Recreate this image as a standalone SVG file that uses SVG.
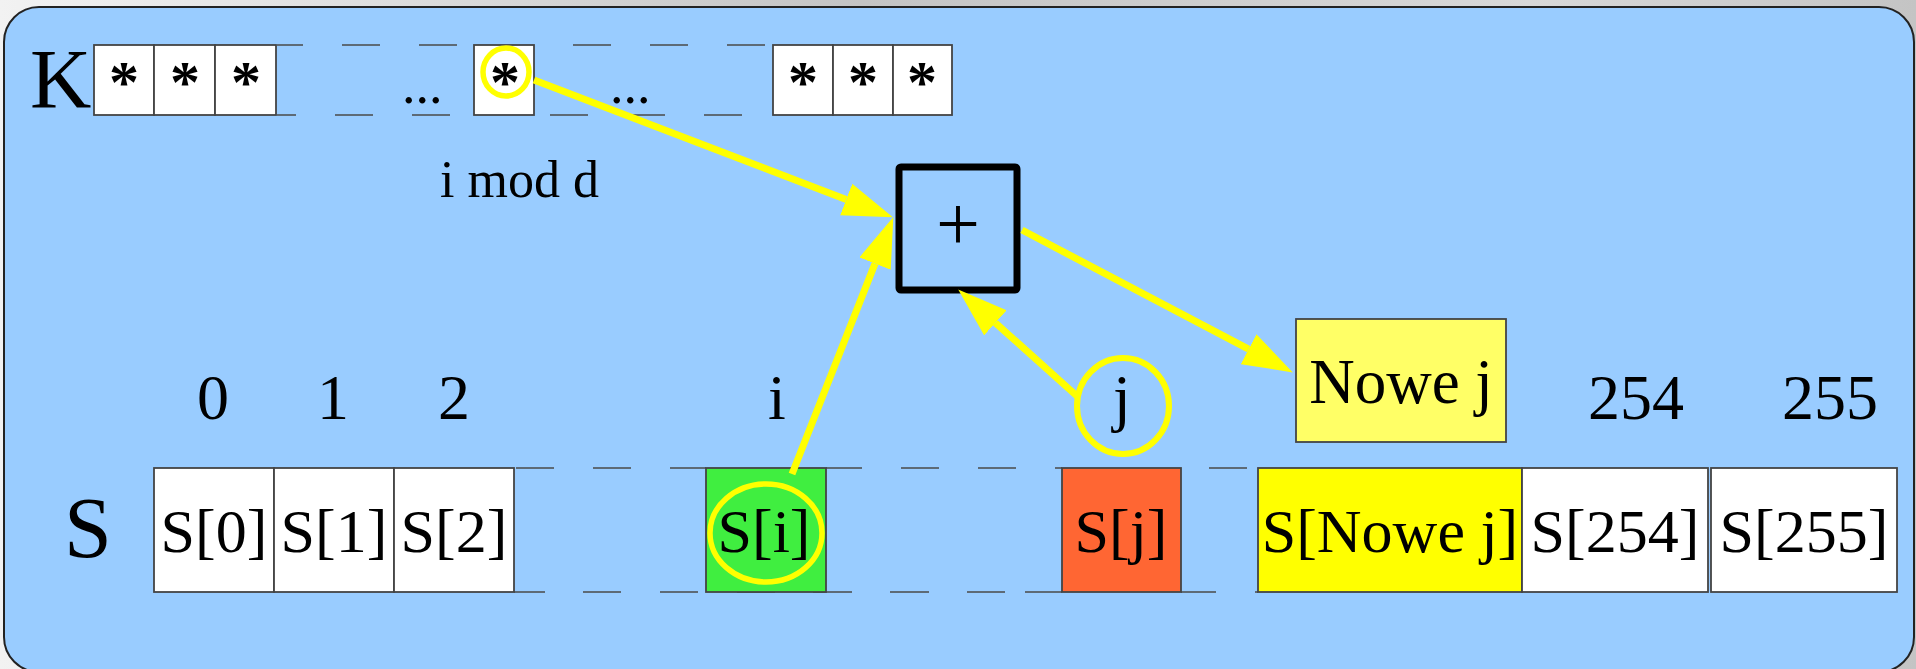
<svg xmlns="http://www.w3.org/2000/svg" width="1916" height="669" viewBox="0 0 1916 669">
<defs>
<linearGradient id="bg" x1="0" y1="0" x2="1" y2="0">
<stop offset="0" stop-color="#f2f2f2"/>
<stop offset="0.45" stop-color="#c4c4c4"/>
<stop offset="0.8" stop-color="#d8d8d8"/>
<stop offset="1" stop-color="#c4c4c4"/>
</linearGradient>
<marker id="ah" markerUnits="userSpaceOnUse" markerWidth="50" markerHeight="34" viewBox="0 0 49 33" refX="0" refY="16.5" orient="auto">
<path d="M0,0 L49,16.5 L0,33 Z" fill="#ffff00"/>
</marker>
<style>
.t{font-family:"Liberation Serif","Times New Roman",serif;fill:#000}
.c{stroke:#444;stroke-width:1.8}
.w{fill:#ffffff}
.d{stroke:#4a4a4a;stroke-width:1.5;fill:none}
.y{stroke:#ffff00;stroke-width:7;fill:none;marker-end:url(#ah)}
.ring{stroke:#ffff00;fill:none}
.mid{text-anchor:middle}
.ast{font-size:60px;font-weight:bold}
</style>
</defs>
<rect x="0" y="0" width="1916" height="669" fill="url(#bg)"/>
<rect id="panel" x="4" y="7" width="1910" height="665" rx="35" ry="35" fill="#99ccff" stroke="#222" stroke-width="2"/>

<g id="K-row">
<text class="t" x="30" y="108" font-size="85">K</text>
<rect class="c w" x="94" y="45" width="60" height="70"/>
<rect class="c w" x="154" y="45" width="61" height="70"/>
<rect class="c w" x="215" y="45" width="61" height="70"/>
<text class="t mid ast" x="124" y="102">*</text>
<text class="t mid ast" x="185" y="102">*</text>
<text class="t mid ast" x="246" y="102">*</text>
<path class="d" d="M277,45 H303 M342,45 H380 M419,45 H457 M573,45 H611 M650,45 H688 M727,45 H765 M277,115 H296 M335,115 H373 M412,115 H450 M550,115 H588 M627,115 H665 M704,115 H742"/>
<text class="t" x="402" y="103" font-size="54">...</text>
<text class="t" x="610" y="103" font-size="54">...</text>
<rect id="K-sel" class="c w" x="474" y="45" width="60" height="70"/>
<text class="t mid ast" x="505" y="102">*</text>
<rect class="c w" x="773" y="45" width="60" height="70"/>
<rect class="c w" x="833" y="45" width="60" height="70"/>
<rect class="c w" x="893" y="45" width="59" height="70"/>
<text class="t mid ast" x="803" y="102">*</text>
<text class="t mid ast" x="863" y="102">*</text>
<text class="t mid ast" x="922" y="102">*</text>
<text class="t" x="440" y="197" font-size="52">i mod d</text>
</g>

<g id="plus">
<rect x="899" y="167" width="118" height="123" rx="2" fill="none" stroke="#000" stroke-width="7"/>
<text class="t mid" x="958" y="250" font-size="78">+</text>
</g>

<g id="nowe-j">
<rect x="1296" y="319" width="210" height="123" fill="#ffff66" stroke="#444" stroke-width="1.8"/>
<text class="t mid" x="1401" y="403" font-size="63">Nowe j</text>
</g>

<g id="labels">
<text class="t mid" x="213" y="419" font-size="64">0</text>
<text class="t mid" x="333" y="419" font-size="64">1</text>
<text class="t mid" x="454" y="419" font-size="64">2</text>
<text class="t mid" x="777" y="419" font-size="64">i</text>
<text class="t mid" x="1122" y="419" font-size="64">j</text>
<text class="t mid" x="1636" y="419" font-size="64">254</text>
<text class="t mid" x="1830" y="419" font-size="64">255</text>
</g>

<g id="S-row">
<text class="t" x="64" y="557" font-size="86">S</text>
<path class="d" d="M516,468 H554 M593,468 H631 M670,468 H706 M826,468 H862 M901,468 H939 M978,468 H1016 M1055,468 H1062 M1209,468 H1247 M514,592 H545 M583,592 H621 M660,592 H698 M737,592 H775 M813,592 H852 M890,592 H929 M967,592 H1005 M1025,592 H1062 M1181,592 H1216 M1255,592 H1258"/>
<rect class="c w" x="154" y="468" width="120" height="124"/>
<rect class="c w" x="274" y="468" width="120" height="124"/>
<rect class="c w" x="394" y="468" width="120" height="124"/>
<rect class="c" x="706" y="468" width="120" height="124" fill="#40ee40"/>
<rect class="c" x="1062" y="468" width="119" height="124" fill="#ff6633"/>
<rect class="c" x="1258" y="468" width="264" height="124" fill="#ffff00"/>
<rect class="c w" x="1522" y="468" width="186" height="124"/>
<rect class="c w" x="1711" y="468" width="186" height="124"/>
<text class="t mid" x="214" y="552" font-size="62">S[0]</text>
<text class="t mid" x="334" y="552" font-size="62">S[1]</text>
<text class="t mid" x="454" y="552" font-size="62">S[2]</text>
<text class="t mid" x="764" y="552" font-size="62">S[i]</text>
<text class="t mid" x="1121" y="552" font-size="62">S[j]</text>
<text class="t mid" x="1390" y="552" font-size="62">S[Nowe j]</text>
<text class="t mid" x="1615" y="552" font-size="62">S[254]</text>
<text class="t mid" x="1804" y="552" font-size="62">S[255]</text>
</g>

<g id="rings">
<ellipse class="ring" cx="506" cy="72" rx="23" ry="24" stroke-width="5.5"/>
<ellipse class="ring" cx="766" cy="533" rx="56" ry="49" stroke-width="5.5"/>
<ellipse class="ring" cx="1123" cy="406" rx="46" ry="48" stroke-width="6"/>
</g>

<g id="connectors">
<line class="y" x1="534" y1="80" x2="846.2" y2="199.5"/>
<line class="y" x1="792" y1="474" x2="875" y2="263.6"/>
<line class="y" x1="1078" y1="397" x2="995.4" y2="322.8"/>
<line class="y" x1="1022" y1="230" x2="1248.6" y2="349.2"/>
</g>
</svg>
